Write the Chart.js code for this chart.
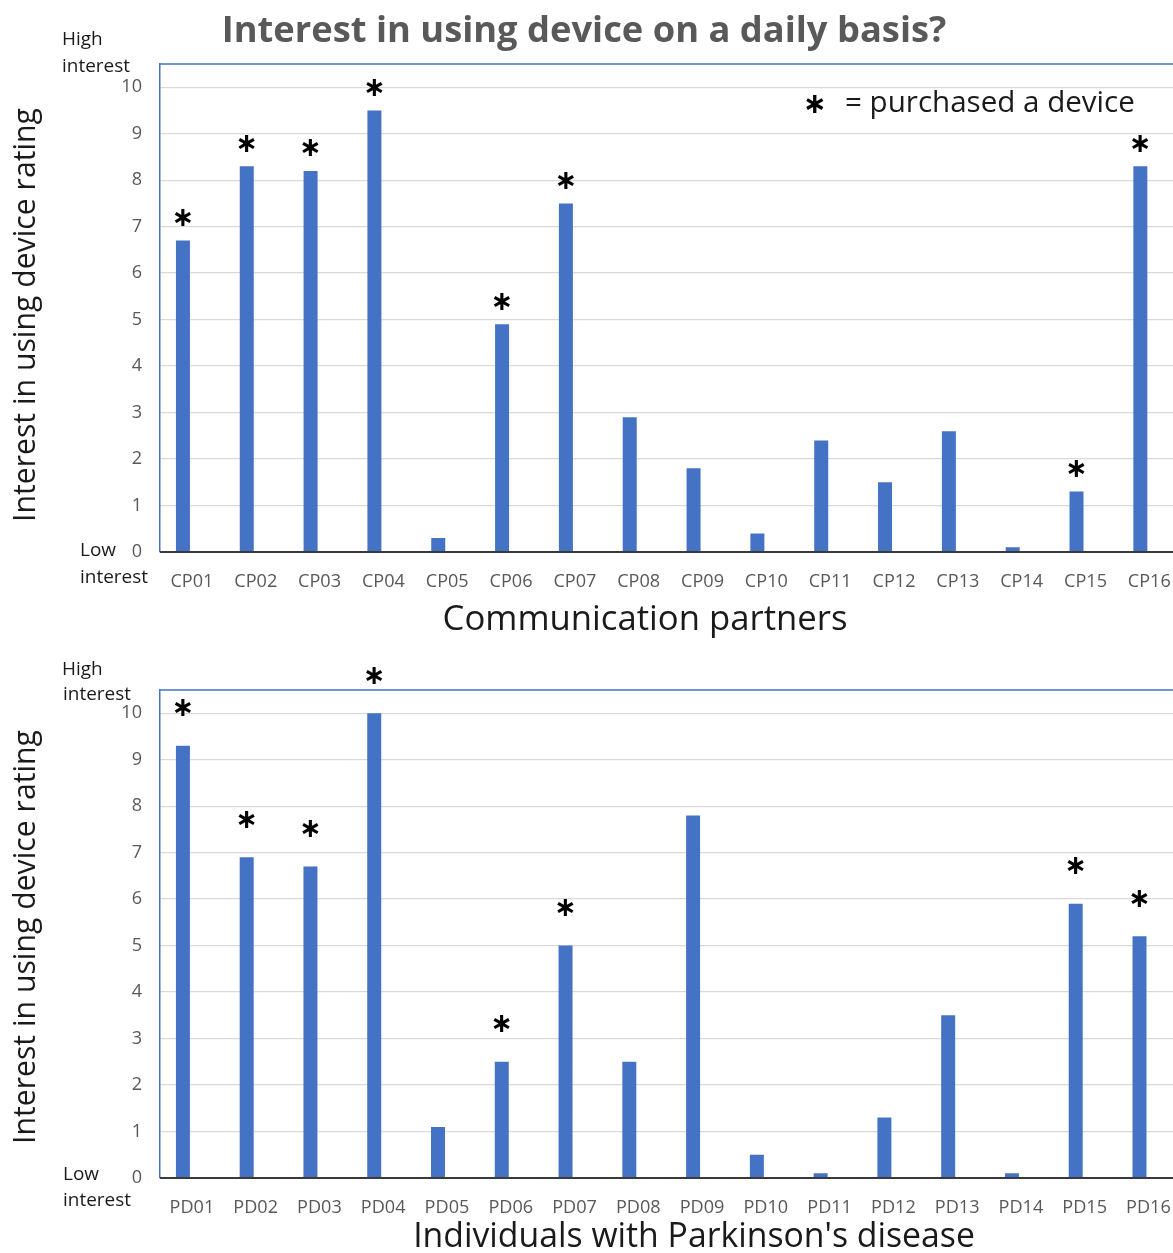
<!DOCTYPE html>
<html><head><meta charset="utf-8">
<script src="https://cdn.jsdelivr.net/npm/chart.js@4.4.1/dist/chart.umd.min.js"></script>
<style>
html,body{margin:0;padding:0;background:#fff;overflow:hidden;width:1173px;height:1253px;}
#c1{position:absolute;left:0;top:0;}
#c2{position:absolute;left:0;top:630px;}
</style></head><body>
<canvas id="c1" width="1190" height="660"></canvas>
<canvas id="c2" width="1190" height="623"></canvas>
<script>
// ---------- data ----------
const chartTitle = 'Interest in using device on a daily basis?';
const yAxisTitle = 'Interest in using device rating';
const cpAxisTitle = 'Communication partners';
const pdAxisTitle = "Individuals with Parkinson's disease";
const legendText = '= purchased a device';
const highLabel = ['High', 'interest'];
const lowLabel = ['Low', 'interest'];

const cpLabels = ['CP01','CP02','CP03','CP04','CP05','CP06','CP07','CP08','CP09','CP10','CP11','CP12','CP13','CP14','CP15','CP16'];
const cpRatings = [6.7, 8.3, 8.2, 9.5, 0.3, 4.9, 7.5, 2.9, 1.8, 0.4, 2.4, 1.5, 2.6, 0.1, 1.3, 8.3];
const cpPurchased = [true, true, true, true, false, true, true, false, false, false, false, false, false, false, true, true];

const pdLabels = ['PD01','PD02','PD03','PD04','PD05','PD06','PD07','PD08','PD09','PD10','PD11','PD12','PD13','PD14','PD15','PD16'];
const pdRatings = [9.3, 6.9, 6.7, 10.0, 1.1, 2.5, 5.0, 2.5, 7.8, 0.5, 0.1, 1.3, 3.5, 0.1, 5.9, 5.2];
const pdPurchased = [true, true, true, true, false, true, true, false, false, false, false, false, false, false, true, true];

// the original workbook plots a second, empty series beside each bar
const emptySeries = [null, null, null, null, null, null, null, null, null, null, null, null, null, null, null, null];

const yMin = 0, yMax = 10.5, yStep = 1;

// ---------- style ----------
const FAMILY = '"Open Sans", "Noto Sans", sans-serif';
const BAR = '#4472C4';
const GRAY = '#595959';
const DARK = '#1a1a1a';

const mctx = document.createElement('canvas').getContext('2d');
function fit(text, weight, target) {
  mctx.font = weight + ' 100px ' + FAMILY;
  return 100 * target / mctx.measureText(text).width;
}
const tickSize = fit('CP01', 'normal', 43);

function drawAsterisk(ctx, cx, cy, h) {
  ctx.save();
  ctx.fillStyle = '#000';
  ctx.font = 'bold 100px "DejaVu Sans"';
  ctx.textAlign = 'left';
  ctx.textBaseline = 'alphabetic';
  let m = ctx.measureText('\u2217');
  const s = 100 * h / (m.actualBoundingBoxAscent + m.actualBoundingBoxDescent);
  ctx.font = 'bold ' + s + 'px "DejaVu Sans"';
  m = ctx.measureText('\u2217');
  const x = cx - (m.actualBoundingBoxRight - m.actualBoundingBoxLeft) / 2;
  const y = cy + (m.actualBoundingBoxAscent - m.actualBoundingBoxDescent) / 2;
  ctx.fillText('\u2217', x, y);
  ctx.restore();
}

function text(ctx, str, x, y, size, weight, color, align) {
  ctx.save();
  ctx.font = weight + ' ' + size + 'px ' + FAMILY;
  ctx.fillStyle = color;
  ctx.textAlign = align || 'left';
  ctx.textBaseline = 'middle';
  ctx.fillText(str, x, y);
  ctx.restore();
}

function overlay(cfg) {
  return {
    id: 'overlay' + cfg.key,
    afterDatasetsDraw(chart) {
      const ctx = chart.ctx, a = chart.chartArea;
      const y0 = chart.scales.y.getPixelForValue(0);
      ctx.save();
      ctx.strokeStyle = BAR;
      ctx.lineWidth = 1.5;
      ctx.beginPath();
      ctx.moveTo(a.left, a.top); ctx.lineTo(a.right, a.top); ctx.lineTo(a.right, y0);
      ctx.stroke();
      ctx.strokeStyle = '#3a3a3a';
      ctx.lineWidth = 2;
      ctx.beginPath();
      ctx.moveTo(a.left, y0); ctx.lineTo(a.right, y0);
      ctx.stroke();
      ctx.restore();
      const meta = chart.getDatasetMeta(0);
      cfg.purchased.forEach((p, i) => {
        if (!p) return;
        const bar = meta.data[i];
        drawAsterisk(ctx, bar.x, bar.y - cfg.starOffset, 17);
      });
      cfg.extra(ctx, chart);
    }
  };
}

function makeChart(id, labels, values, purchased, starOffset, padTop, xAxisH, extra) {
  const canvas = document.getElementById(id);
  return new Chart(canvas, {
    type: 'bar',
    data: {
      labels: labels,
      datasets: [
        { data: values, backgroundColor: BAR, borderWidth: 0 },
        { data: emptySeries, backgroundColor: BAR, borderWidth: 0 }
      ]
    },
    options: {
      responsive: false,
      animation: false,
      devicePixelRatio: 1,
      categoryPercentage: 0.5625,
      barPercentage: 0.78,
      layout: { padding: { top: padTop, left: 0, right: 6, bottom: 0 } },
      plugins: { legend: { display: false }, tooltip: { enabled: false }, title: { display: false } },
      scales: {
        x: {
          grid: { display: false, drawTicks: false },
          border: { display: false },
          ticks: { color: GRAY, font: { family: FAMILY, size: tickSize }, padding: 19, maxRotation: 0, autoSkip: false },
          afterFit(s) { s.height = xAxisH; }
        },
        y: {
          min: yMin, max: yMax,
          grid: { color: '#D9D9D9', lineWidth: 1.3, drawTicks: false },
          border: { display: true, color: BAR, width: 1.5 },
          ticks: { stepSize: yStep, includeBounds: false, color: GRAY, font: { family: FAMILY, size: tickSize }, padding: 18 },
          afterFit(s) { s.width = 160; }
        }
      }
    },
    plugins: [overlay({ key: id, purchased: purchased, starOffset: starOffset, extra: extra })]
  });
}

const titleSize = fit(chartTitle, 'bold', 725);
const yTitleSize = fit(yAxisTitle, 'normal', 414);
const cpTitleSize = fit(cpAxisTitle, 'normal', 405);
const pdTitleSize = fit(pdAxisTitle, 'normal', 562);
const legendSize = fit(legendText, 'normal', 290);
const smallSize = fit('interest', 'normal', 68);

makeChart('c1', cpLabels, cpRatings, cpPurchased, 23, 64, 660 - 552, (ctx) => {
  text(ctx, chartTitle, 584, 32, titleSize, 'bold', GRAY, 'center');
  text(ctx, highLabel[0], 62, 40, smallSize, 'normal', DARK);
  text(ctx, highLabel[1], 62, 67, smallSize, 'normal', DARK);
  text(ctx, lowLabel[0], 80, 551, smallSize, 'normal', DARK);
  text(ctx, lowLabel[1], 80, 578, smallSize, 'normal', DARK);
  text(ctx, cpAxisTitle, 645, 620, cpTitleSize, 'normal', DARK, 'center');
  drawAsterisk(ctx, 815, 104, 18);
  text(ctx, legendText, 845, 104, legendSize, 'normal', DARK);
  ctx.save(); ctx.translate(26, 315); ctx.rotate(-Math.PI / 2);
  text(ctx, yAxisTitle, 0, 0, yTitleSize, 'normal', DARK, 'center');
  ctx.restore();
});

makeChart('c2', pdLabels, pdRatings, pdPurchased, 38, 60, 623 - 548, (ctx) => {
  text(ctx, highLabel[0], 62, 40, smallSize, 'normal', DARK);
  text(ctx, highLabel[1], 63, 65, smallSize, 'normal', DARK);
  text(ctx, lowLabel[0], 63, 545, smallSize, 'normal', DARK);
  text(ctx, lowLabel[1], 63, 571, smallSize, 'normal', DARK);
  text(ctx, pdAxisTitle, 694, 607, pdTitleSize, 'normal', DARK, 'center');
  ctx.save(); ctx.translate(26, 307); ctx.rotate(-Math.PI / 2);
  text(ctx, yAxisTitle, 0, 0, yTitleSize, 'normal', DARK, 'center');
  ctx.restore();
});
</script>
</body></html>
